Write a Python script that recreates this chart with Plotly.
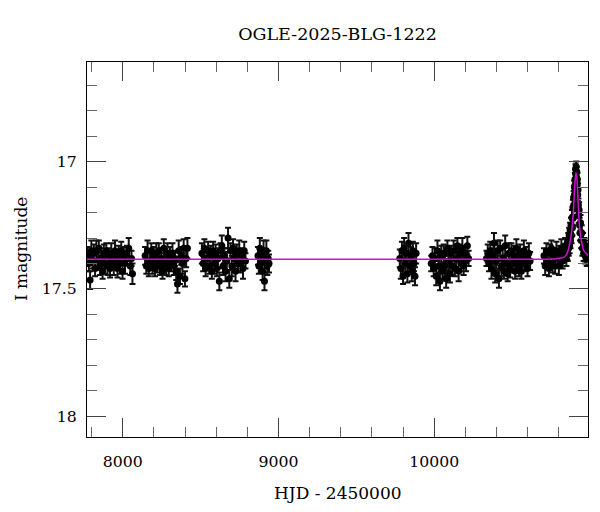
import plotly.graph_objects as go

# ---------------------------------------------------------------------------
# OGLE photometry, one set of lists per observing season
# ---------------------------------------------------------------------------
hjd_2017 = [7774, 7782, 7790, 7798, 7806, 7814, 7822, 7830, 7838, 7846, 7854, 7862, 7870, 7878,
            7886, 7894, 7902, 7910, 7918, 7926, 7934, 7942, 7950, 7958, 7966, 7974, 7982, 7990,
            7998, 8006, 8014, 8026, 8038, 8048, 8056, 8062]
mag_2017 = [17.37, 17.40, 17.465, 17.35, 17.39, 17.36, 17.42, 17.35, 17.39, 17.34,
            17.41, 17.38, 17.43, 17.36, 17.40, 17.35, 17.41, 17.37, 17.42, 17.36,
            17.39, 17.41, 17.35, 17.38, 17.42, 17.36, 17.40, 17.35, 17.43, 17.37,
            17.40, 17.36, 17.34, 17.41, 17.38, 17.44]
err_2017 = [0.035, 0.03, 0.035, 0.04, 0.03, 0.035, 0.03, 0.04, 0.035, 0.03,
            0.035, 0.04, 0.03, 0.035, 0.04, 0.03, 0.035, 0.03, 0.035, 0.04,
            0.03, 0.035, 0.04, 0.03, 0.035, 0.03, 0.04, 0.035, 0.03, 0.035,
            0.04, 0.03, 0.04, 0.035, 0.03, 0.04]

hjd_2018 = [8143, 8151, 8159, 8167, 8175, 8183, 8191, 8199, 8207, 8215, 8223, 8231, 8239, 8247,
            8255, 8263, 8271, 8279, 8287, 8295, 8303, 8311, 8319, 8327, 8335, 8343, 8351, 8359,
            8367, 8375, 8383, 8391, 8399, 8407, 8415]
mag_2018 = [17.37, 17.41, 17.35, 17.42, 17.39, 17.35, 17.40, 17.37, 17.42, 17.36,
            17.40, 17.35, 17.41, 17.38, 17.43, 17.34, 17.39, 17.41, 17.36, 17.42,
            17.37, 17.40, 17.36, 17.41, 17.38, 17.43, 17.48, 17.35, 17.45, 17.37,
            17.40, 17.34, 17.46, 17.38, 17.34]
err_2018 = [0.035, 0.03, 0.04, 0.03, 0.035, 0.03, 0.04, 0.035, 0.03, 0.04,
            0.035, 0.03, 0.035, 0.04, 0.03, 0.035, 0.03, 0.035, 0.04, 0.03,
            0.035, 0.03, 0.04, 0.035, 0.03, 0.035, 0.035, 0.04, 0.03, 0.035,
            0.04, 0.035, 0.03, 0.035, 0.04]

hjd_2019 = [8508, 8516, 8524, 8532, 8540, 8548, 8556, 8564, 8572, 8580, 8588, 8596, 8604, 8612,
            8620, 8628, 8636, 8644, 8652, 8660, 8668, 8676, 8684, 8692, 8700, 8708, 8716, 8724,
            8732, 8740, 8748, 8756, 8764, 8772, 8780, 8788]
mag_2019 = [17.36, 17.40, 17.34, 17.42, 17.38, 17.35, 17.41, 17.37, 17.43, 17.35,
            17.40, 17.36, 17.42, 17.38, 17.47, 17.35, 17.33, 17.41, 17.37, 17.43,
            17.39, 17.30, 17.46, 17.35, 17.41, 17.34, 17.38, 17.43, 17.36, 17.40,
            17.35, 17.40, 17.37, 17.42, 17.35, 17.39]
err_2019 = [0.04, 0.03, 0.035, 0.03, 0.04, 0.035, 0.03, 0.04, 0.03, 0.035,
            0.04, 0.035, 0.03, 0.04, 0.035, 0.03, 0.04, 0.035, 0.03, 0.04,
            0.035, 0.04, 0.035, 0.03, 0.04, 0.035, 0.03, 0.04, 0.035, 0.03,
            0.04, 0.035, 0.03, 0.04, 0.035, 0.03]

hjd_2020 = [8868, 8874, 8880, 8886, 8892, 8898, 8904, 8910, 8916, 8922, 8928, 8934, 8939]
mag_2020 = [17.37, 17.41, 17.34, 17.40, 17.37, 17.43, 17.35, 17.47, 17.39, 17.35, 17.41, 17.38, 17.40]
err_2020 = [0.035, 0.03, 0.04, 0.035, 0.03, 0.035, 0.04, 0.035, 0.03, 0.04, 0.035, 0.03, 0.035]

hjd_2022 = [9779, 9786, 9793, 9800, 9807, 9814, 9821, 9828, 9835, 9842, 9849, 9856, 9863,
            9870, 9877, 9884]
mag_2022 = [17.38, 17.42, 17.35, 17.45, 17.34, 17.40, 17.36, 17.44, 17.32, 17.41, 17.37, 17.43,
            17.35, 17.40, 17.45, 17.36]
err_2022 = [0.035, 0.04, 0.035, 0.03, 0.04, 0.035, 0.03, 0.035, 0.04, 0.03, 0.035, 0.04,
            0.035, 0.03, 0.035, 0.04]

hjd_2023 = [9981, 9989, 9997, 10005, 10013, 10021, 10029, 10037, 10045, 10053, 10061, 10069,
            10077, 10085, 10093, 10101, 10109, 10117, 10125, 10133, 10141, 10149, 10157, 10165,
            10173, 10181, 10189, 10197, 10205, 10213, 10221]
mag_2023 = [17.40, 17.37, 17.42, 17.38, 17.45, 17.35, 17.41, 17.47, 17.37, 17.43,
            17.36, 17.41, 17.46, 17.34, 17.39, 17.44, 17.36, 17.41, 17.35, 17.42,
            17.38, 17.33, 17.43, 17.36, 17.40, 17.34, 17.41, 17.36, 17.39, 17.33,
            17.38]
err_2023 = [0.03, 0.035, 0.03, 0.04, 0.035, 0.04, 0.03, 0.035, 0.04, 0.03,
            0.035, 0.04, 0.035, 0.03, 0.04, 0.035, 0.03, 0.035, 0.04, 0.03,
            0.035, 0.03, 0.04, 0.035, 0.03, 0.04, 0.035, 0.03, 0.04, 0.035,
            0.03]

hjd_2024 = [10336, 10344, 10352, 10360, 10368, 10376, 10384, 10392, 10400, 10408, 10416, 10424,
            10432, 10440, 10448, 10456, 10464, 10472, 10480, 10488, 10496, 10504, 10512, 10520,
            10528, 10536, 10544, 10552, 10560, 10568, 10576, 10584, 10592, 10600, 10608, 10616]
mag_2024 = [17.38, 17.36, 17.40, 17.35, 17.42, 17.37, 17.32, 17.44, 17.39, 17.35,
            17.46, 17.34, 17.41, 17.38, 17.43, 17.33, 17.40, 17.44, 17.36, 17.42,
            17.35, 17.40, 17.37, 17.43, 17.34, 17.39, 17.41, 17.36, 17.43, 17.38,
            17.35, 17.40, 17.37, 17.42, 17.36, 17.39]
err_2024 = [0.03, 0.035, 0.03, 0.035, 0.04, 0.03, 0.04, 0.035, 0.03, 0.04,
            0.035, 0.03, 0.04, 0.035, 0.03, 0.04, 0.035, 0.03, 0.04, 0.035,
            0.03, 0.035, 0.04, 0.03, 0.035, 0.03, 0.04, 0.035, 0.03, 0.035,
            0.04, 0.03, 0.035, 0.03, 0.04, 0.035]

hjd_2025 = [10705, 10713, 10721, 10729, 10737, 10745, 10753, 10761, 10769, 10777,
            10785, 10793, 10801, 10809, 10817, 10825, 10833, 10841, 10849, 10855,
            10858, 10861, 10864, 10867, 10870, 10873, 10876, 10879, 10882, 10885, 10888, 10891,
            10894, 10896, 10898, 10900, 10902, 10904, 10906, 10908, 10910, 10912, 10914, 10916,
            10918, 10920, 10922, 10924, 10926, 10928, 10931, 10934, 10937, 10940, 10944, 10948,
            10952, 10956, 10960, 10965, 10970, 10975, 10980, 10985]
mag_2025 = [17.37, 17.41, 17.35, 17.39, 17.42, 17.36, 17.34, 17.40, 17.37, 17.41,
            17.35, 17.38, 17.41, 17.36, 17.34, 17.39, 17.36, 17.33, 17.38, 17.35,
            17.36, 17.31, 17.34, 17.29, 17.33, 17.27, 17.31, 17.25, 17.29, 17.22, 17.26, 17.18,
            17.22, 17.14, 17.17, 17.10, 17.13, 17.07, 17.09, 17.03, 17.05, 17.02, 17.06, 17.04,
            17.09, 17.07, 17.13, 17.11, 17.17, 17.21, 17.19, 17.25, 17.28, 17.24, 17.31, 17.28,
            17.34, 17.31, 17.36, 17.33, 17.37, 17.34, 17.38, 17.35]
err_2025 = [0.03, 0.035, 0.03, 0.035, 0.03, 0.035, 0.03, 0.035, 0.03, 0.03,
            0.035, 0.03, 0.035, 0.03, 0.035, 0.03, 0.035, 0.03, 0.03, 0.035,
            0.03, 0.03, 0.03, 0.03, 0.03, 0.03, 0.03, 0.03, 0.03, 0.03, 0.03, 0.03,
            0.03, 0.025, 0.025, 0.025, 0.025, 0.025, 0.025, 0.02, 0.02, 0.02, 0.02, 0.02,
            0.025, 0.025, 0.025, 0.025, 0.025, 0.03, 0.03, 0.03, 0.03, 0.03, 0.03, 0.03,
            0.03, 0.03, 0.03, 0.03, 0.03, 0.03, 0.03, 0.03]

# model light curve (magenta)
model_hjd = [7770, 10700, 10780, 10832, 10853, 10875, 10892, 10900, 10906, 10911,
             10916, 10921, 10932, 10945, 10960, 10988]
model_mag = [17.383, 17.383, 17.381, 17.376, 17.361, 17.308, 17.217, 17.125, 17.07, 17.044,
             17.06, 17.112, 17.243, 17.308, 17.348, 17.368]

seasons = [(hjd_2017, mag_2017, err_2017), (hjd_2018, mag_2018, err_2018),
           (hjd_2019, mag_2019, err_2019), (hjd_2020, mag_2020, err_2020),
           (hjd_2022, mag_2022, err_2022), (hjd_2023, mag_2023, err_2023),
           (hjd_2024, mag_2024, err_2024), (hjd_2025, mag_2025, err_2025)]
hjd, mag, err = [], [], []
for t, m, e in seasons:
    assert len(t) == len(m) == len(e), (len(t), len(m), len(e))
    hjd += t
    mag += m
    err += e

serif = "DejaVu Serif"

fig = go.Figure()

fig.add_trace(go.Scatter(
    x=hjd, y=mag, mode="markers",
    marker=dict(color="black", size=7),
    error_y=dict(type="data", array=err, color="#111111", thickness=2, width=3),
    showlegend=False))

fig.add_trace(go.Scatter(
    x=model_hjd, y=model_mag, mode="lines",
    line=dict(color="#d010d0", width=1.5, shape="spline", smoothing=0.6),
    showlegend=False))

axis_common = dict(
    showline=True, linecolor="black", linewidth=1.3, mirror="ticks",
    ticks="inside", ticklen=19, tickwidth=1, tickcolor="#444444",
    showgrid=False, zeroline=False,
    tickfont=dict(family=serif, size=15.7, color="black"),
)

fig.update_xaxes(
    range=[7770, 10988], tick0=0, dtick=1000, tickformat="d",
    minor=dict(dtick=200, ticks="inside", ticklen=10, tickcolor="#666666", tickwidth=1),
    ticklabelstandoff=10,
    **axis_common)

fig.update_yaxes(
    range=[18.081, 16.609], tickvals=[17, 17.5, 18], ticktext=["17", "17.5", "18"],
    minor=dict(dtick=0.1, ticks="inside", ticklen=10, tickcolor="#666666", tickwidth=1),
    ticklabelstandoff=6,
    **axis_common)

fig.add_annotation(text="HJD - 2450000", xref="paper", yref="paper", x=0.5, y=0,
                   yshift=-56, showarrow=False, yanchor="middle",
                   font=dict(family=serif, size=17, color="black"))
fig.add_annotation(text="I magnitude", xref="paper", yref="paper", x=0, y=0.5,
                   xshift=-66.5, showarrow=False, textangle=-90, xanchor="center",
                   font=dict(family=serif, size=17, color="black"))

# the page body has an 8 px margin, so the figure is sized to fit inside it
fig.update_layout(
    width=584, height=496, autosize=False,
    margin=dict(l=79, r=4, t=54, b=67),
    paper_bgcolor="white", plot_bgcolor="white",
    title=dict(text="OGLE-2025-BLG-1222", x=0.5, xref="paper",
               y=1 - 26 / 496, yref="container", yanchor="middle",
               font=dict(family=serif, size=17.5, color="black")),
)

fig.write_html("out.html")
